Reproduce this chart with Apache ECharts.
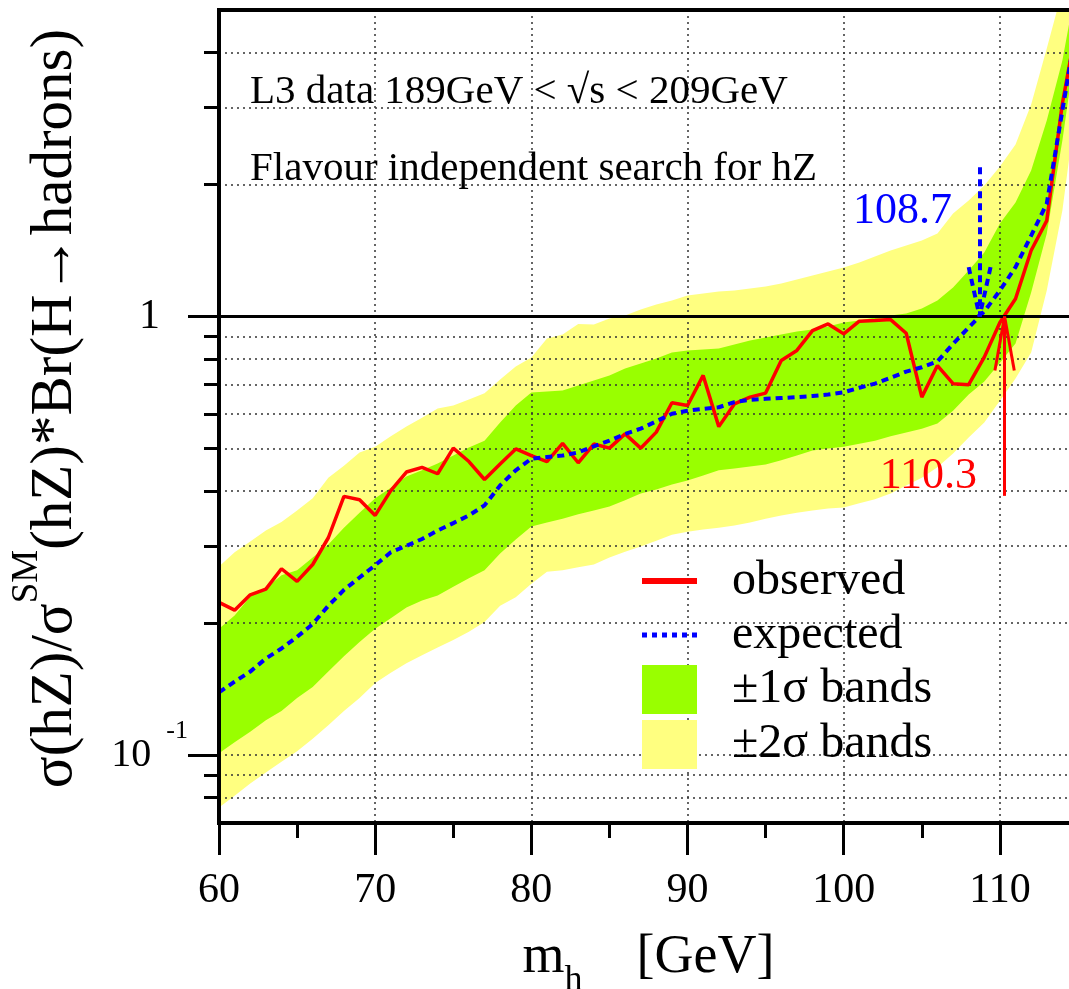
<!DOCTYPE html>
<html>
<head>
<meta charset="utf-8">
<script src="https://cdn.jsdelivr.net/npm/echarts@6/dist/echarts.min.js"></script>
<style>
  html, body { margin: 0; padding: 0; background: #ffffff; }
  #chart { width: 1069px; height: 989px; }
</style>
</head>
<body>
<div id="chart"></div>
<script>
// Higgs mass hypotheses (GeV)
const massGeV = [60, 61, 62, 63, 64, 65, 66, 67, 68, 69,
                 70, 71, 72, 73, 74, 75, 76, 77, 78, 79,
                 80, 81, 82, 83, 84, 85, 86, 87, 88, 89,
                 90, 91, 92, 93, 94, 95, 96, 97, 98, 99,
                 100, 101, 102, 103, 104, 105, 106, 107, 108, 109,
                 110, 111, 112, 113, 114, 115];

// 95% CL upper limit on sigma(hZ)/sigma_SM(hZ) * Br(H->hadrons), observed
const observed = [0.223, 0.214, 0.232, 0.239, 0.266, 0.249, 0.272, 0.313, 0.389, 0.382,
                  0.352, 0.401, 0.442, 0.453, 0.438, 0.501, 0.467, 0.425, 0.461, 0.499,
                  0.482, 0.467, 0.514, 0.464, 0.512, 0.501, 0.540, 0.501, 0.545, 0.636,
                  0.627, 0.734, 0.561, 0.632, 0.655, 0.669, 0.794, 0.837, 0.929, 0.962,
                  0.913, 0.976, 0.979, 0.984, 0.916, 0.655, 0.773, 0.703, 0.699, 0.808,
                  0.969, 1.098, 1.414, 1.655, 3.06, 4.8];

// median expected limit
const expected = [0.139, 0.147, 0.155, 0.166, 0.175, 0.186, 0.199, 0.219, 0.238, 0.254,
                  0.271, 0.290, 0.300, 0.311, 0.325, 0.338, 0.352, 0.371, 0.412, 0.446,
                  0.474, 0.478, 0.482, 0.490, 0.506, 0.521, 0.540, 0.555, 0.577, 0.600,
                  0.610, 0.616, 0.621, 0.638, 0.646, 0.649, 0.652, 0.655, 0.659, 0.664,
                  0.672, 0.688, 0.703, 0.725, 0.749, 0.766, 0.790, 0.866, 0.944, 1.027,
                  1.146, 1.296, 1.530, 1.810, 2.95, 4.8];

// +-1 sigma band of the expected limit
const oneSigmaLow = [0.101, 0.107, 0.113, 0.120, 0.126, 0.135, 0.143, 0.155, 0.168, 0.181,
                     0.194, 0.205, 0.217, 0.225, 0.231, 0.242, 0.253, 0.264, 0.288, 0.310,
                     0.332, 0.339, 0.346, 0.354, 0.361, 0.369, 0.381, 0.395, 0.403, 0.414,
                     0.423, 0.434, 0.446, 0.450, 0.455, 0.460, 0.470, 0.482, 0.495, 0.500,
                     0.505, 0.513, 0.521, 0.533, 0.544, 0.555, 0.570, 0.610, 0.664, 0.711,
                     0.785, 0.868, 1.134, 1.547, 2.52, 4.49];
const oneSigmaHigh = [0.194, 0.208, 0.230, 0.240, 0.257, 0.264, 0.282, 0.302, 0.330, 0.357,
                      0.385, 0.407, 0.432, 0.446, 0.462, 0.482, 0.503, 0.521, 0.573, 0.627,
                      0.671, 0.675, 0.678, 0.696, 0.715, 0.734, 0.761, 0.781, 0.802, 0.828,
                      0.837, 0.841, 0.845, 0.863, 0.882, 0.896, 0.910, 0.924, 0.934, 0.949,
                      0.969, 0.979, 0.995, 1.005, 1.016, 1.043, 1.088, 1.165, 1.273, 1.400,
                      1.630, 1.820, 2.153, 2.799, 3.835, 6.0];

// +-2 sigma band of the expected limit
const twoSigmaLow = [0.0759, 0.0808, 0.0861, 0.0912, 0.0966, 0.102, 0.109, 0.117, 0.126, 0.135,
                     0.146, 0.154, 0.162, 0.169, 0.176, 0.183, 0.191, 0.201, 0.219, 0.229,
                     0.246, 0.262, 0.264, 0.268, 0.272, 0.282, 0.291, 0.299, 0.308, 0.318,
                     0.323, 0.327, 0.330, 0.334, 0.339, 0.346, 0.352, 0.357, 0.361, 0.365,
                     0.367, 0.375, 0.383, 0.395, 0.412, 0.429, 0.453, 0.487, 0.530, 0.573,
                     0.643, 0.722, 0.828, 1.146, 1.745, 3.277];
const twoSigmaHigh = [0.269, 0.290, 0.307, 0.325, 0.340, 0.361, 0.385, 0.429, 0.457, 0.490,
                      0.505, 0.533, 0.561, 0.588, 0.617, 0.627, 0.647, 0.668, 0.718, 0.769,
                      0.806, 0.891, 0.910, 0.961, 0.959, 0.990, 1.005, 1.038, 1.065, 1.088,
                      1.117, 1.128, 1.140, 1.146, 1.158, 1.171, 1.189, 1.214, 1.240, 1.266,
                      1.293, 1.328, 1.370, 1.414, 1.452, 1.491, 1.547, 1.718, 1.839, 1.990,
                      2.198, 2.468, 3.044, 4.086, 5.54, 8.0];

// lower mass limits (GeV) where the limit curves cross 1
const limitExpected = 108.7;
const limitObserved = 110.3;

// axis ticks
const majorMassTicks = [60, 70, 80, 90, 100, 110];
const minorMassTicks = [65, 75, 85, 95, 105];
const majorRatioTicks = [0.1, 1];
const minorRatioTicks = [0.08, 0.09, 0.1, 0.2, 0.3, 0.4, 0.5, 0.6, 0.7, 0.8, 0.9, 2, 3, 4];

// arrow annotations (data units)
const expArrow = { top: 2.19, head: 1.296, halfWidth: 0.7, labelY: 1.736 };
const obsArrow = { bottom: 0.39, head: 0.753, halfWidth: 0.62, labelY: 0.4316 };

const SERIF = 'Liberation Serif';
const RED = '#ff0000';
const BLUE = '#0000ff';
const GREEN = '#99ff00';
const YELLOW = '#ffff80';
const gridDots = { color: '#333333', type: [2, 4], width: 1.5 };
const hiddenMarker = { color: 'rgba(0,0,0,0)', borderWidth: 0 };

function pairs(ys) {
  return massGeV.map(function (m, i) { return [m, ys[i]]; });
}

// filled band between a lower and an upper curve, drawn through the cartesian scales
function bandSeries(name, color, lower, upper) {
  return {
    name: name,
    type: 'custom',
    coordinateSystem: 'cartesian2d',
    xAxisIndex: 0,
    yAxisIndex: 0,
    clip: true,
    silent: true,
    z: 0,
    itemStyle: { color: color },
    data: [[massGeV[0], lower[0]]],
    renderItem: function (params, api) {
      const pts = [];
      for (let i = 0; i < massGeV.length; i++) pts.push(api.coord([massGeV[i], upper[i]]));
      for (let i = massGeV.length - 1; i >= 0; i--) pts.push(api.coord([massGeV[i], lower[i]]));
      return { type: 'polygon', shape: { points: pts }, style: { fill: color } };
    }
  };
}

const chart = echarts.init(document.getElementById('chart'), null, { renderer: 'canvas' });

chart.setOption({
  animation: false,
  backgroundColor: '#ffffff',
  grid: {
    show: true, left: 219, top: 10, width: 859, height: 813,
    outerBoundsMode: 'none', containLabel: false,
    borderColor: '#000', borderWidth: 4, backgroundColor: 'rgba(0,0,0,0)', z: 5
  },
  title: [
    {
      text: 'L3 data 189GeV < \u221As < 209GeV', left: 250, top: 72, padding: 0,
      textStyle: { fontFamily: SERIF, fontSize: 41, fontWeight: 'normal', color: '#000' }
    },
    {
      text: 'Flavour independent search for hZ', left: 250, top: 149, padding: 0,
      textStyle: { fontFamily: SERIF, fontSize: 41, fontWeight: 'normal', color: '#000' }
    }
  ],
  legend: {
    orient: 'vertical', left: 639, top: 557, itemWidth: 55, itemHeight: 49, itemGap: 6,
    selectedMode: false, padding: 0,
    textStyle: { fontFamily: SERIF, fontSize: 48, color: '#000', padding: [0, 0, 0, 30] },
    data: [
      { name: 'observed', itemStyle: hiddenMarker, lineStyle: { width: 6, color: RED, type: 'solid' } },
      { name: 'expected', itemStyle: hiddenMarker, lineStyle: { width: 5, color: BLUE, type: [5, 5] } },
      { name: '\u00B11\u03C3 bands', icon: 'rect' },
      { name: '\u00B12\u03C3 bands', icon: 'rect' }
    ]
  },
  xAxis: [
    {
      type: 'value', gridIndex: 0, position: 'bottom', min: 60, max: 115, interval: 10, z: 1,
      name: '{t|m}{sub|h}{t|    [GeV]}', nameLocation: 'middle', nameGap: 108,
      nameTextStyle: {
        rich: {
          t: { fontFamily: SERIF, fontSize: 54, lineHeight: 54, color: '#000', verticalAlign: 'top' },
          sub: { fontFamily: SERIF, fontSize: 36, lineHeight: 68, color: '#000', verticalAlign: 'bottom' }
        }
      },
      axisLine: { show: true, onZero: false, lineStyle: { color: '#000', width: 4 } },
      axisTick: { show: true, length: 32, customValues: majorMassTicks, lineStyle: { color: '#000', width: 3 } },
      axisLabel: { show: true, customValues: majorMassTicks, fontFamily: SERIF, fontSize: 42, color: '#000', margin: 47 },
      splitLine: { show: true, lineStyle: gridDots }
    },
    {
      type: 'value', gridIndex: 0, position: 'bottom', min: 60, max: 115, z: 1,
      axisLine: { show: false },
      axisTick: { show: true, length: 15, customValues: minorMassTicks, lineStyle: { color: '#000', width: 3 } },
      axisLabel: { show: false },
      splitLine: { show: false }
    }
  ],
  yAxis: [
    {
      type: 'log', logBase: 10, gridIndex: 0, position: 'left', min: 0.07, max: 5, z: 1,
      name: '{t|\u03C3(hZ)/\u03C3}{sup|SM}{t|(hZ)*Br(H\u2192hadrons)}',
      nameLocation: 'middle', nameRotate: 90, nameGap: 134,
      nameTextStyle: {
        padding: [0, 0, 0, 16],
        rich: {
          t: { fontFamily: SERIF, fontSize: 59, lineHeight: 76, color: '#000', verticalAlign: 'bottom' },
          sup: { fontFamily: SERIF, fontSize: 37, lineHeight: 37, color: '#000', verticalAlign: 'top' }
        }
      },
      axisLine: { show: true, onZero: false, lineStyle: { color: '#000', width: 4 } },
      axisTick: { show: true, length: 15, customValues: minorRatioTicks, lineStyle: { color: '#000', width: 3 } },
      axisLabel: { show: false },
      splitLine: { show: true, lineStyle: gridDots }
    },
    {
      type: 'log', logBase: 10, gridIndex: 0, position: 'left', min: 0.07, max: 5, z: 1,
      axisLine: { show: false },
      axisTick: { show: true, length: 31, customValues: majorRatioTicks, lineStyle: { color: '#000', width: 3 } },
      axisLabel: {
        show: true, customValues: majorRatioTicks, margin: 31,
        formatter: function (v) { return v > 0.5 ? '{one|1}' : '{m|10}{s|-1}'; },
        rich: {
          one: { fontFamily: SERIF, fontSize: 42, color: '#000', padding: [0, 28, 0, 0] },
          m: { fontFamily: SERIF, fontSize: 40, lineHeight: 74, color: '#000', verticalAlign: 'middle' },
          s: { fontFamily: SERIF, fontSize: 26, lineHeight: 26, color: '#000', verticalAlign: 'top', padding: [0, 0, 0, 15] }
        }
      },
      splitLine: { show: false }
    }
  ],
  series: [
    bandSeries('\u00B12\u03C3 bands', YELLOW, twoSigmaLow, twoSigmaHigh),
    bandSeries('\u00B11\u03C3 bands', GREEN, oneSigmaLow, oneSigmaHigh),
    {
      name: 'observed', type: 'line', xAxisIndex: 0, yAxisIndex: 0, z: 3,
      data: pairs(observed), symbol: 'none', silent: true,
      lineStyle: { color: RED, width: 3.5 }, itemStyle: { color: RED },
      markLine: {
        silent: true, symbol: ['none', 'none'], label: { show: false }, animation: false,
        data: [
          [{ coord: [60, 1], lineStyle: { color: '#000', width: 3, type: 'solid' } }, { coord: [115, 1] }],
          [{ coord: [limitObserved, obsArrow.bottom], lineStyle: { color: RED, width: 3, type: 'solid' } }, { coord: [limitObserved, 1] }],
          [{ coord: [limitObserved - obsArrow.halfWidth, obsArrow.head], lineStyle: { color: RED, width: 3, type: 'solid' } }, { coord: [limitObserved, 1] }],
          [{ coord: [limitObserved + obsArrow.halfWidth, obsArrow.head], lineStyle: { color: RED, width: 3, type: 'solid' } }, { coord: [limitObserved, 1] }]
        ]
      },
      markPoint: {
        silent: true, symbol: 'circle', symbolSize: 1, itemStyle: { color: 'rgba(0,0,0,0)' },
        label: {
          show: true, position: 'left', distance: 27, color: RED, fontFamily: SERIF, fontSize: 44,
          formatter: function () { return limitObserved.toFixed(1); }
        },
        data: [{ coord: [limitObserved, obsArrow.labelY] }]
      }
    },
    {
      name: 'expected', type: 'line', xAxisIndex: 0, yAxisIndex: 0, z: 3,
      data: pairs(expected), symbol: 'none', silent: true,
      lineStyle: { color: BLUE, width: 4, type: [7, 5] }, itemStyle: { color: BLUE },
      markLine: {
        silent: true, symbol: ['none', 'none'], label: { show: false }, animation: false,
        lineStyle: { color: BLUE, width: 4, type: [7, 5] },
        data: [
          [{ coord: [limitExpected, expArrow.top] }, { coord: [limitExpected, 1] }],
          [{ coord: [limitExpected - expArrow.halfWidth, expArrow.head] }, { coord: [limitExpected, 1] }],
          [{ coord: [limitExpected + expArrow.halfWidth, expArrow.head] }, { coord: [limitExpected, 1] }]
        ]
      },
      markPoint: {
        silent: true, symbol: 'circle', symbolSize: 1, itemStyle: { color: 'rgba(0,0,0,0)' },
        label: {
          show: true, position: 'left', distance: 27, color: BLUE, fontFamily: SERIF, fontSize: 44,
          formatter: function () { return limitExpected.toFixed(1); }
        },
        data: [{ coord: [limitExpected, expArrow.labelY] }]
      }
    }
  ]
});
</script>
</body>
</html>
